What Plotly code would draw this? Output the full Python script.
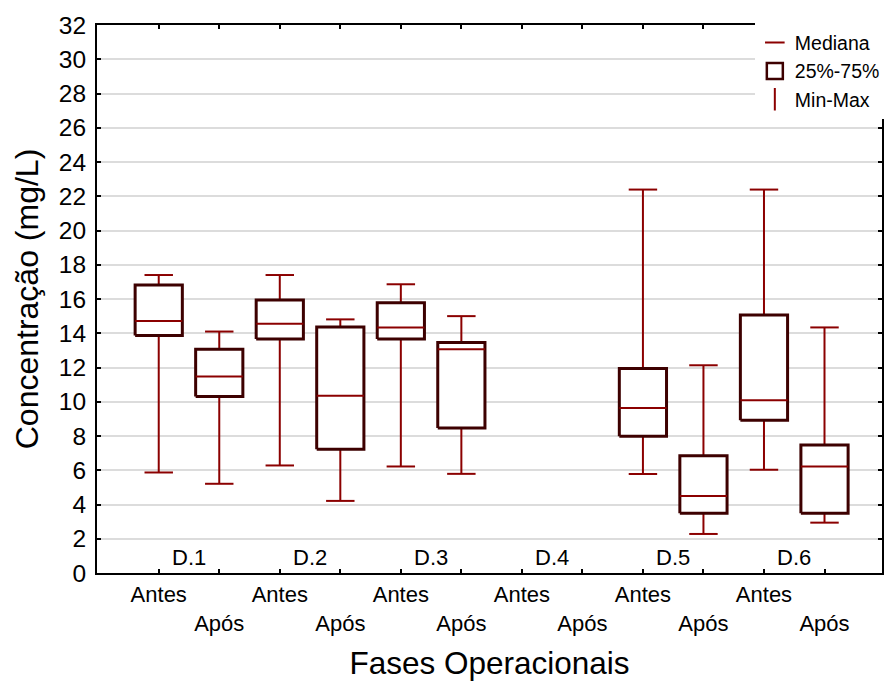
import plotly.graph_objects as go

# ---- data ----
groups = ["D.1", "D.2", "D.3", "D.4", "D.5", "D.6"]
phases = ["Antes", "Após"]
mins = [5.87, 5.21, 6.28, 4.21, 6.22, 5.79, None, None, 5.78, 2.28, 6.03, 2.94]
q1s = [13.87, 10.31, 13.67, 7.22, 13.67, 8.47, None, None, 7.98, 3.49, 8.92, 3.49]
medians = [14.71, 11.47, 14.55, 10.35, 14.34, 13.07, None, None, 9.63, 4.49, 10.09, 6.22]
q3s = [16.82, 13.07, 15.94, 14.36, 15.78, 13.46, None, None, 11.94, 6.85, 15.06, 7.48]
maxs = [17.40, 14.10, 17.40, 14.81, 16.86, 15.00, None, None, 22.39, 12.13, 22.39, 14.34]
y_ticks = list(range(0, 33, 2))

# ---- styles ----
FONT = "Liberation Sans, Arial, sans-serif"
RED = "#8b0000"
DARK = "#3d0000"
BOX_HW = 0.39
CAP_HW = 0.235

n = len(groups) * len(phases)
positions = list(range(n))
tick_text = [("<br>" + p if p == "Após" else p) for g in groups for p in phases]

wx, wy = [], []
bx, by = [], []
mx, my = [], []
for i in positions:
    if medians[i] is None:
        continue
    wx += [i, i, None, i - CAP_HW, i + CAP_HW, None, i - CAP_HW, i + CAP_HW, None]
    wy += [mins[i], maxs[i], None, mins[i], mins[i], None, maxs[i], maxs[i], None]
    bx += [i - BOX_HW, i + BOX_HW, i + BOX_HW, i - BOX_HW, i - BOX_HW, None]
    by += [q1s[i], q1s[i], q3s[i], q3s[i], q1s[i], None]
    mx += [i - BOX_HW, i + BOX_HW, None]
    my += [medians[i], medians[i], None]

fig = go.Figure()
fig.add_trace(go.Scatter(x=wx, y=wy, mode="lines", line=dict(color=RED, width=2),
                         showlegend=False, hoverinfo="skip"))
fig.add_trace(go.Scatter(x=bx, y=by, mode="lines", fill="toself", fillcolor="white",
                         line=dict(color=DARK, width=3), showlegend=False, hoverinfo="skip"))
fig.add_trace(go.Scatter(x=mx, y=my, mode="lines", line=dict(color=RED, width=2),
                         showlegend=False, hoverinfo="skip"))

# legend entries
fig.add_trace(go.Scatter(x=[None], y=[None], mode="markers", name="Mediana",
                         marker=dict(symbol="line-ew", size=14, line=dict(color=RED, width=2))))
fig.add_trace(go.Scatter(x=[None], y=[None], mode="markers", name="25%-75%",
                         marker=dict(symbol="square-open", size=16, color=DARK,
                                     line=dict(color=DARK, width=2.5))))
fig.add_trace(go.Scatter(x=[None], y=[None], mode="markers", name="Min-Max",
                         marker=dict(symbol="line-ns", size=20, line=dict(color=RED, width=2))))

# group labels
for k, g in enumerate(groups):
    fig.add_annotation(x=2 * k + 0.5, y=0, xref="x", yref="y", text=g, showarrow=False,
                       yanchor="bottom", yshift=1, font=dict(family=FONT, size=22, color="black"))

fig.update_layout(
    width=886, height=686,
    margin=dict(l=97, r=1, t=25, b=113),
    paper_bgcolor="white", plot_bgcolor="white",
    font=dict(family=FONT, color="black"),
    legend=dict(x=0.838, y=1.003, xanchor="left", yanchor="top", bgcolor="white",
                font=dict(family=FONT, size=19.5, color="black"), tracegroupgap=0),
    xaxis=dict(
        range=[-1.02, 11.95], tickmode="array", tickvals=positions, ticktext=tick_text,
        ticks="inside", ticklen=4, tickwidth=1.5, tickcolor="black",
        showline=True, linecolor="black", linewidth=2, mirror="ticks",
        showgrid=False, zeroline=False, ticklabelstandoff=1,
        tickfont=dict(family=FONT, size=22, color="black"),
        title=dict(text="Fases Operacionais", font=dict(family=FONT, size=31.5, color="black"),
                   standoff=17),
    ),
    yaxis=dict(
        range=[0, 32], tickmode="array", tickvals=y_ticks,
        ticks="inside", ticklen=4, tickwidth=2, tickcolor="black",
        showline=True, linecolor="black", linewidth=2, mirror="ticks",
        showgrid=True, gridcolor="#dcdcdc", gridwidth=1.5, zeroline=False,
        ticklabelstandoff=4,
        tickfont=dict(family=FONT, size=24.5, color="black"),
        title=dict(text="Concentração (mg/L)", font=dict(family=FONT, size=32, color="black"),
                   standoff=11),
    ),
)

fig.write_html("out.html")
